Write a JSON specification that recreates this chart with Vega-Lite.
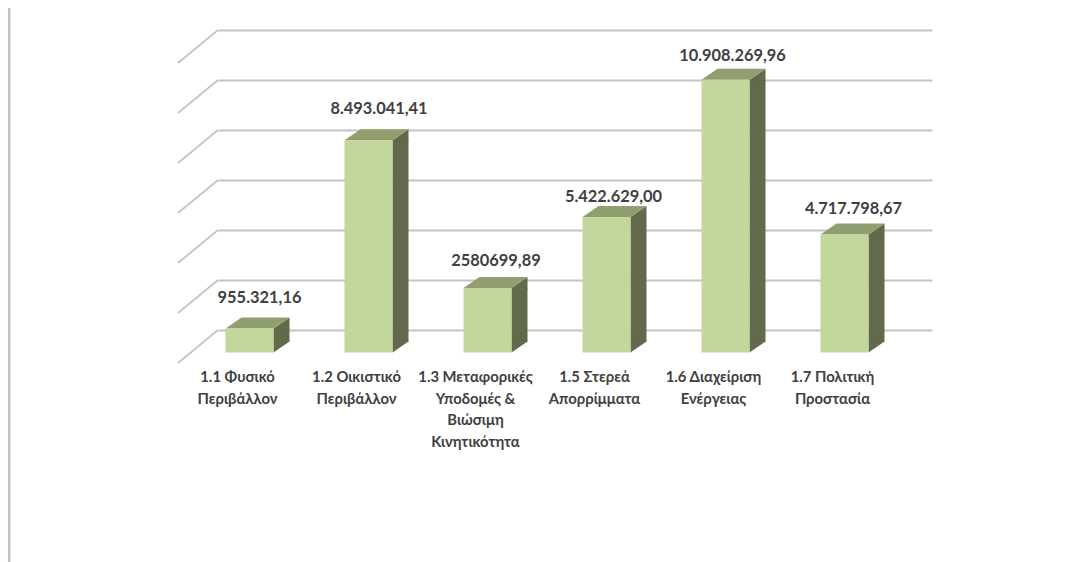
{
"$schema":"https://vega.github.io/schema/vega-lite/v6.json",
"width":714,"height":300,
"autosize":{"type":"none"},
"padding":{"left":218,"top":30,"right":154,"bottom":232},
"background":"white",
"config":{"view":{"stroke":null},"text":{"font":"Lato","fontSize":16.4,"fontWeight":"bold","color":"#404040","baseline":"alphabetic"}},
"datasets":{
"bars":[
{"category":"1.1 Φυσικό|Περιβάλλον","value":955321.16,"label":"955.321,16"},
{"category":"1.2 Οικιστικό|Περιβάλλον","value":8493041.41,"label":"8.493.041,41"},
{"category":"1.3 Μεταφορικές|Υποδομές &|Βιώσιμη|Κινητικότητα","value":2580699.89,"label":"2580699,89"},
{"category":"1.5 Στερεά|Απορρίμματα","value":5422629.00,"label":"5.422.629,00"},
{"category":"1.6 Διαχείριση|Ενέργειας","value":10908269.96,"label":"10.908.269,96"},
{"category":"1.7  Πολιτική|Προστασία","value":4717798.67,"label":"4.717.798,67"}
],
"levels":[{"level":0},{"level":2000000},{"level":4000000},{"level":6000000},{"level":8000000},{"level":10000000},{"level":12000000}]
},
"data":{"name":"bars"},
"encoding":{
"x":{"field":"category","type":"nominal","sort":null,
"scale":{"paddingInner":0.6,"paddingOuter":0.3},
"axis":{"title":null,"domain":false,"ticks":false,"labelAngle":0,"labelPadding":39.5,"labelOffset":-40,"labelFont":"Lato","labelFontSize":14.8,"labelFontWeight":"bold","labelColor":"#404040","labelLineHeight":21.7,"labelBaseline":"top","labelLimit":0,"labelOverlap":false,"labelExpr":"split(datum.label,'|')"}},
"y":{"field":"value","type":"quantitative","scale":{"domain":[0,12000000]},
"axis":{"title":null,"domain":false,"ticks":false,"labels":false,"grid":true,"gridColor":"#c4c4c4","gridWidth":2,"values":[0,2000000,4000000,6000000,8000000,10000000,12000000]}}
},
"layer":[
{"data":{"name":"levels"},
 "transform":[{"filter":{"field":"level","equal":12000000}}],
 "mark":{"type":"point","shape":"M0 -22 L0 532","size":4,"filled":false,"stroke":"#c0c0c0","strokeWidth":2.5,"opacity":1,"xOffset":-244.5},
 "encoding":{"x":{"datum":"1.1 Φυσικό|Περιβάλλον","bandPosition":0,"type":"nominal"},"y":{"field":"level","type":"quantitative"}}},
{"data":{"name":"levels"},
 "mark":{"type":"point","shape":"M0 0 L-40 33","size":4,"filled":false,"stroke":"#c4c4c4","strokeWidth":1.8,"opacity":1,"xOffset":-35.7},
 "encoding":{"x":{"datum":"1.1 Φυσικό|Περιβάλλον","bandPosition":0,"type":"nominal"},"y":{"field":"level","type":"quantitative"}}},
{"mark":{"type":"bar","color":"#616a4a","width":16,"xOffset":4,"yOffset":22.5,"y2Offset":11.5},
 "encoding":{"y2":{"datum":0}}},
{"mark":{"type":"point","shape":"M-4 0 L12 -11 L12 1 L-4 1 Z","size":4,"filled":true,"fill":"#616a4a","strokeWidth":0,"opacity":1,"yOffset":22.5}},
{"mark":{"type":"point","shape":"M-4 0 L-4 -12 L12 -12 L12 -11 Z","size":4,"filled":true,"fill":"#616a4a","strokeWidth":0,"opacity":1,"yOffset":22.5},
 "encoding":{"y":{"datum":0}}},
{"mark":{"type":"point","shape":"M-52 0 L-4 0 L12 -11 L-36 -11 Z","size":4,"filled":true,"fill":"#919f70","strokeWidth":0,"opacity":1,"yOffset":22.5}},
{"mark":{"type":"bar","color":"#c3d69b","width":48,"xOffset":-28,"yOffset":22.5,"y2Offset":22.5},
 "encoding":{"y2":{"datum":0}}},
{"transform":[{"filter":{"field":"label","equal":"955.321,16"}}],
 "mark":{"type":"text","xOffset":-18,"yOffset":-3.6},"encoding":{"text":{"field":"label","type":"nominal"}}},
{"transform":[{"filter":{"field":"label","equal":"8.493.041,41"}}],
 "mark":{"type":"text","xOffset":-17.5,"yOffset":-3.2},"encoding":{"text":{"field":"label","type":"nominal"}}},
{"transform":[{"filter":{"field":"label","equal":"2580699,89"}}],
 "mark":{"type":"text","xOffset":-19.5,"yOffset":0.5},"encoding":{"text":{"field":"label","type":"nominal"}}},
{"transform":[{"filter":{"field":"label","equal":"5.422.629,00"}}],
 "mark":{"type":"text","xOffset":-21,"yOffset":8},"encoding":{"text":{"field":"label","type":"nominal"}}},
{"transform":[{"filter":{"field":"label","equal":"10.908.269,96"}}],
 "mark":{"type":"text","xOffset":-21,"yOffset":3.4},"encoding":{"text":{"field":"label","type":"nominal"}}},
{"transform":[{"filter":{"field":"label","equal":"4.717.798,67"}}],
 "mark":{"type":"text","xOffset":-19,"yOffset":2.4},"encoding":{"text":{"field":"label","type":"nominal"}}}
]
}
